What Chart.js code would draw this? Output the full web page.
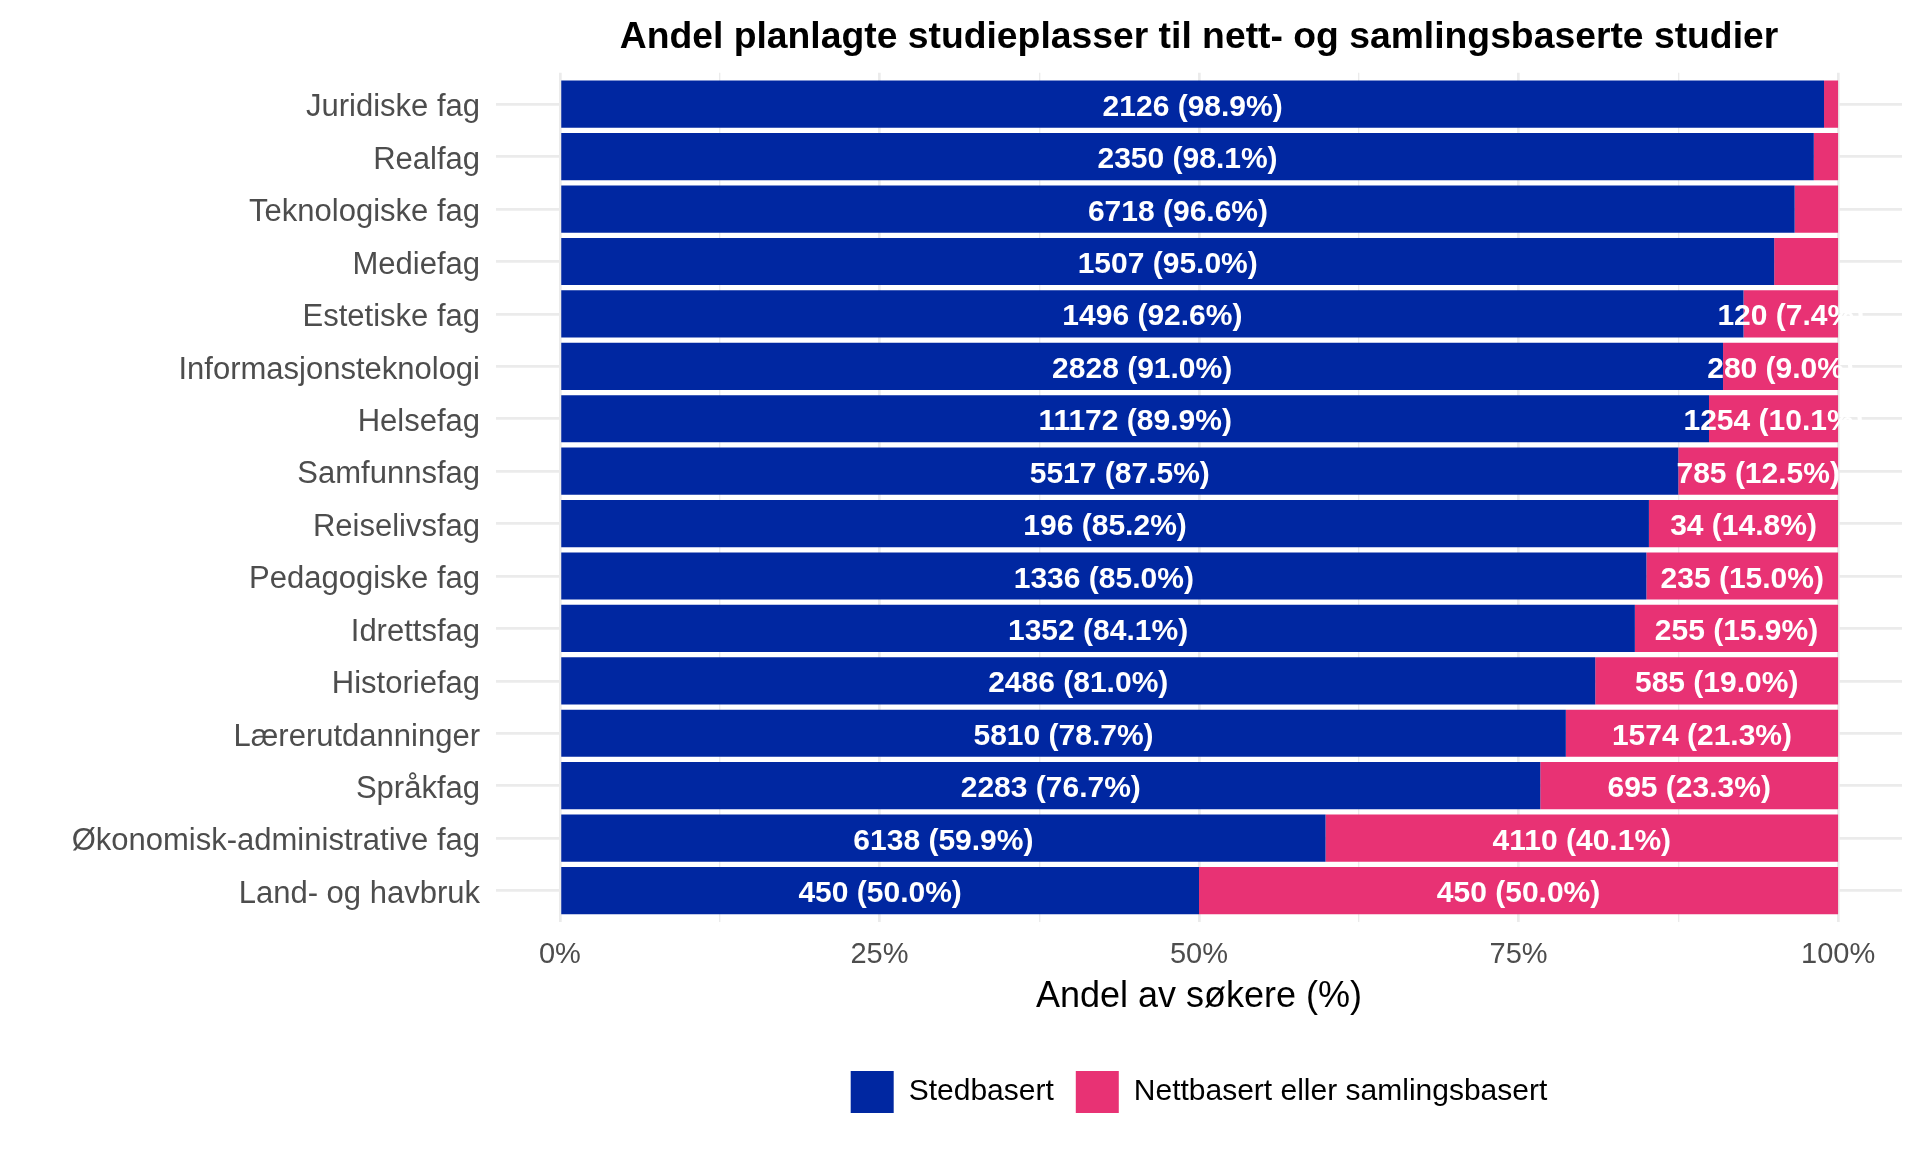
<!DOCTYPE html>
<html>
<head>
<meta charset="utf-8">
<script src="https://cdn.jsdelivr.net/npm/chart.js@4.4.1/dist/chart.umd.min.js"></script>
<style>
  html, body { margin: 0; padding: 0; background: #ffffff; }
  canvas { display: block; }
</style>
</head>
<body>
<canvas id="chart" width="1920" height="1152"></canvas>
<script>
// verdier lest av figuren, ovenfra og ned
const kategorier = [
  'Juridiske fag', 'Realfag', 'Teknologiske fag', 'Mediefag', 'Estetiske fag',
  'Informasjonsteknologi', 'Helsefag', 'Samfunnsfag', 'Reiselivsfag', 'Pedagogiske fag',
  'Idrettsfag', 'Historiefag', 'Lærerutdanninger', 'Språkfag',
  'Økonomisk-administrative fag', 'Land- og havbruk'
];
const stedAntall = [2126, 2350, 6718, 1507, 1496, 2828, 11172, 5517, 196, 1336, 1352, 2486, 5810, 2283, 6138, 450];
const stedAndel = [98.9, 98.1, 96.6, 95.0, 92.6, 91.0, 89.9, 87.5, 85.2, 85.0, 84.1, 81.0, 78.7, 76.7, 59.9, 50.0];
// de fire første er ikke merket i figuren, anslått
const nettAntall = [24, 46, 236, 79, 120, 280, 1254, 785, 34, 235, 255, 585, 1574, 695, 4110, 450];
const nettAndel = [1.1, 1.9, 3.4, 5.0, 7.4, 9.0, 10.1, 12.5, 14.8, 15.0, 15.9, 19.0, 21.3, 23.3, 40.1, 50.0];

const xMajor = [0, 25, 50, 75, 100];
const xMinor = [12.5, 37.5, 62.5, 87.5];
const xTickLabels = ['0%', '25%', '50%', '75%', '100%'];

const serieNavn = ['Stedbasert', 'Nettbasert eller samlingsbasert'];
const farger = ['#0027A1', '#E83274'];

const FONT = '"Liberation Sans", Arial, Helvetica, sans-serif';

let punkter = (andel) => andel.map((v, i) => ({ x: v, y: i + 1 }));

const rotulos = {
  id: 'rotulos',
  afterDatasetsDraw(chart) {
    let ctx = chart.ctx;
    ctx.save();
    ctx.font = 'bold 30px ' + FONT;
    ctx.fillStyle = '#ffffff';
    ctx.textAlign = 'center';
    ctx.textBaseline = 'alphabetic';
    chart.data.datasets.forEach((ds, i) => {
      chart.getDatasetMeta(i).data.forEach((bar, j) => {
        if (ds.andel[j] <= 5) return;
        let x = (bar.x + bar.base) / 2;
        ctx.fillText(ds.antall[j] + ' (' + ds.andel[j].toFixed(1) + '%)', x, bar.y + 11.5);
      });
    });
    ctx.restore();
  }
};

// tittel og legende sentreres over panelet, ikke hele lerretet
const sentrer = {
  id: 'sentrer',
  beforeDraw(chart) {
    let a = chart.chartArea;
    [chart.titleBlock, chart.legend].forEach(b => {
      if (b) { b.left = a.left; b.right = a.right; }
    });
  }
};

let canvas = document.getElementById('chart');
let chart = new Chart(canvas, {
  type: 'bar',
  data: {
    datasets: [
      {
        label: serieNavn[0],
        data: punkter(stedAndel),
        antall: stedAntall,
        andel: stedAndel,
        backgroundColor: farger[0],
        borderWidth: 0,
        stack: 'a'
      },
      {
        label: serieNavn[1],
        data: punkter(nettAndel),
        antall: nettAntall,
        andel: nettAndel,
        backgroundColor: farger[1],
        borderWidth: 0,
        stack: 'a'
      }
    ]
  },
  options: {
    indexAxis: 'y',
    responsive: false,
    animation: false,
    categoryPercentage: 1,
    barPercentage: 0.9,
    layout: { padding: { left: 0, right: 18, top: 0, bottom: 29 } },
    scales: {
      x: {
        type: 'linear',
        stacked: true,
        min: -5,
        max: 105,
        afterBuildTicks: (scale) => {
          scale.ticks = xMajor.concat(xMinor).sort((a, b) => a - b).map(v => ({ value: v }));
        },
        afterFit: (scale) => { scale.height = 127; },
        grid: {
          color: '#EBEBEB',
          lineWidth: (c) => (xMajor.indexOf(c.tick.value) >= 0 ? 2.7 : 1.35),
          drawTicks: false
        },
        border: { display: false },
        ticks: {
          padding: 16,
          color: '#4D4D4D',
          font: { family: FONT, size: 29 },
          callback: (v) => {
            let i = xMajor.indexOf(v);
            return i >= 0 ? xTickLabels[i] : '';
          }
        },
        title: {
          display: true,
          text: 'Andel av søkere (%)',
          color: '#000000',
          font: { family: FONT, size: 36 },
          padding: { top: 2, bottom: 30.5 }
        }
      },
      y: {
        type: 'linear',
        reverse: true,
        offset: false,
        min: 0.4,
        max: 16.6,
        afterBuildTicks: (scale) => {
          scale.ticks = kategorier.map((k, i) => ({ value: i + 1 }));
        },
        afterFit: (scale) => { scale.width = 496; },
        grid: {
          color: '#EBEBEB',
          lineWidth: 2.7,
          offset: false,
          drawTicks: false
        },
        border: { display: false },
        ticks: {
          padding: 16,
          labelOffset: 3.7,
          color: '#4D4D4D',
          font: { family: FONT, size: 31 },
          callback: (v) => kategorier[Math.round(v) - 1] || ''
        }
      }
    },
    plugins: {
      title: {
        display: true,
        text: 'Andel planlagte studieplasser til nett- og samlingsbaserte studier',
        color: '#000000',
        font: { family: FONT, size: 37.3, weight: 'bold' },
        padding: { top: 15.7, bottom: 12.3 }
      },
      legend: {
        position: 'bottom',
        labels: {
          boxWidth: 43,
          boxHeight: 42,
          padding: 22,
          color: '#000000',
          font: { family: FONT, size: 30 }
        }
      },
      tooltip: { enabled: false }
    }
  },
  plugins: [rotulos, sentrer]
});
</script>
</body>
</html>
